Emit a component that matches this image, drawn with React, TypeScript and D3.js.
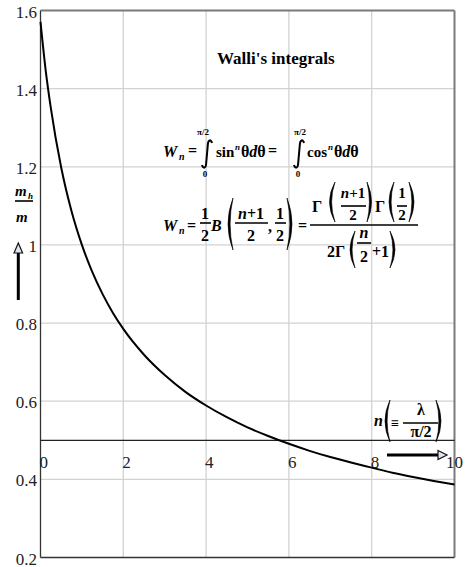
import React from "react";
import * as d3 from "d3";

// Wallis integral W(n) sampled along n
const nValues = [0, 0.125, 0.25, 0.5, 0.75, 1, 1.25, 1.5, 1.75, 2, 2.5, 3, 3.5, 4, 4.5, 5, 5.5, 6, 6.5, 7, 7.5, 8, 8.5, 9, 9.5, 10];
const wValues = [1.571, 1.447, 1.35, 1.198, 1.086, 1.0, 0.931, 0.874, 0.826, 0.785, 0.719, 0.667, 0.624, 0.589, 0.559, 0.533, 0.511, 0.491, 0.473, 0.457, 0.443, 0.43, 0.417, 0.406, 0.396, 0.387];

const xTicks = [0, 2, 4, 6, 8, 10];
const yTicks = [0.2, 0.4, 0.6, 0.8, 1.0, 1.2, 1.4, 1.6];
const xDomain = [0, 10];
const yDomain = [0.2, 1.6];
const axisCrossing = 0.5;

const W = 466;
const H = 567;
const SERIF = "Liberation Serif, Tinos, Times New Roman, Times, DejaVu Serif, serif";

function LParen({ x0, x1, y0, y1 }: { x0: number; x1: number; y0: number; y1: number }) {
  const m = (y0 + y1) / 2;
  return <path d={`M${x1},${y0} Q${x0 - 2},${m} ${x1},${y1} Q${x0 + 2.2},${m} ${x1},${y0} Z`} fill="#000" stroke="#000" strokeWidth={0.6} />;
}
function RParen({ x0, x1, y0, y1 }: { x0: number; x1: number; y0: number; y1: number }) {
  const m = (y0 + y1) / 2;
  return <path d={`M${x0},${y0} Q${x1 + 2},${m} ${x0},${y1} Q${x1 - 2.2},${m} ${x0},${y0} Z`} fill="#000" stroke="#000" strokeWidth={0.6} />;
}
function Integral({ cx, top, bottom }: { cx: number; top: number; bottom: number }) {
  return (
    <path
      d={`M${cx + 5},${top + 3} C${cx + 4},${top - 1} ${cx + 1},${top - 0.5} ${cx + 0.8},${top + 5} L${cx - 0.8},${bottom - 5} C${cx - 1},${bottom + 0.5} ${cx - 4},${bottom + 1} ${cx - 5},${bottom - 3}`}
      fill="none"
      stroke="#000"
      strokeWidth={2}
    />
  );
}
function Bar({ x0, x1, y }: { x0: number; x1: number; y: number }) {
  return <line x1={x0} x2={x1} y1={y} y2={y} stroke="#000" strokeWidth={1.6} />;
}

export default function App() {
  const x = d3.scaleLinear().domain(xDomain).range([40.5, 454.5]);
  const y = d3.scaleLinear().domain(yDomain).range([557.5, 10.5]);
  const line = d3
    .line<number>()
    .x((_, i) => x(nValues[i]))
    .y((d) => y(d))
    .curve(d3.curveMonotoneX);
  const fmt = d3.format("~g");
  const ax = y(axisCrossing);

  const t = { fontFamily: SERIF, fontWeight: 700, fontSize: 16, fill: "#000" } as const;
  const ti = { ...t, fontStyle: "italic" } as const;
  const small = { ...t, fontSize: 9 } as const;

  return (
    <svg width={W} height={H} style={{ position: "absolute", left: 0, top: 0, background: "#fff", fontFamily: SERIF }}>
      {/* grid */}
      {xTicks.slice(1, -1).map((v) => (
        <line key={"gx" + v} x1={x(v)} x2={x(v)} y1={y(1.6)} y2={y(0.2)} stroke="#d2d2d2" strokeWidth={1.3} />
      ))}
      {yTicks.slice(1, -1).map((v) => (
        <line key={"gy" + v} x1={x(0)} x2={x(10)} y1={y(v)} y2={y(v)} stroke="#d2d2d2" strokeWidth={1.3} />
      ))}

      {/* frame */}
      <line x1={x(0)} x2={x(10)} y1={y(1.6)} y2={y(1.6)} stroke="#7a7a7a" strokeWidth={2} />
      <line x1={x(10)} x2={x(10)} y1={y(1.6)} y2={y(0.2)} stroke="#7a7a7a" strokeWidth={2} />
      <line x1={x(0)} x2={x(10)} y1={y(0.2)} y2={y(0.2)} stroke="#333" strokeWidth={1.3} />
      <line x1={x(0)} x2={x(0)} y1={y(1.6)} y2={y(0.2)} stroke="#333" strokeWidth={1.3} />
      <line x1={x(0)} x2={x(10)} y1={ax} y2={ax} stroke="#222" strokeWidth={1.3} />

      {/* tick labels */}
      {yTicks.map((v) => (
        <text key={"ty" + v} x={37} y={y(v) + 7} textAnchor="end" style={{ fontFamily: SERIF }} fontSize={17} fill="#222">
          {fmt(v)}
        </text>
      ))}
      {xTicks.map((v, i) => (
        <text
          key={"tx" + v}
          x={i === xTicks.length - 1 ? x(v) : x(v) - 1}
          y={ax + 28}
          textAnchor={i === xTicks.length - 1 ? "middle" : "start"}
          style={{ fontFamily: SERIF }}
          fontSize={17}
          fill="#222"
        >
          {v}
        </text>
      ))}

      {/* curve */}
      <path d={line(wValues) ?? ""} fill="none" stroke="#000" strokeWidth={2} />

      {/* title */}
      <text x={217} y={64} style={{ fontFamily: SERIF }} fontWeight={700} fontSize={17} fill="#000">
        Walli's integrals
      </text>

      {/* W_n = ∫ sin^n θ dθ = ∫ cos^n θ dθ */}
      <g>
        <text x={163} y={157} {...ti}>W</text>
        <text x={179} y={160} {...ti} fontSize={10}>n</text>
        <text x={188} y={156} {...t}>=</text>
        <Integral cx={207} top={140} bottom={168} />
        <text x={203} y={135} {...small} textAnchor="middle">π/2</text>
        <text x={205} y={177} {...small} textAnchor="middle">0</text>
        <text x={216} y={157} {...t} fontSize={15}>sin</text>
        <text x={235} y={150} {...ti} fontSize={9}>n</text>
        <text x={241} y={157} {...t}>θ<tspan fontStyle="italic">d</tspan>θ</text>
        <text x={268} y={156} {...t}>=</text>
        <Integral cx={299} top={140} bottom={168} />
        <text x={300} y={135} {...small} textAnchor="middle">π/2</text>
        <text x={298} y={177} {...small} textAnchor="middle">0</text>
        <text x={307} y={157} {...t} fontSize={15}>cos</text>
        <text x={328} y={150} {...ti} fontSize={9}>n</text>
        <text x={334} y={157} {...t}>θ<tspan fontStyle="italic">d</tspan>θ</text>
      </g>

      {/* W_n = 1/2 B((n+1)/2, 1/2) = Γ((n+1)/2)Γ(1/2) / 2Γ(n/2+1) */}
      <g>
        <text x={163} y={231} {...ti}>W</text>
        <text x={179} y={234} {...ti} fontSize={10}>n</text>
        <text x={187} y={231} {...t}>=</text>
        <text x={205} y={219} {...t} textAnchor="middle">1</text>
        <Bar x0={200} x1={211} y={223} />
        <text x={205} y={241} {...t} textAnchor="middle">2</text>
        <text x={211} y={231} {...ti}>B</text>
        <LParen x0={225} x1={233} y0={198} y1={250} />
        <text x={251} y={219} {...t} textAnchor="middle"><tspan fontStyle="italic">n</tspan>+1</text>
        <Bar x0={235} x1={268} y={223} />
        <text x={251} y={241} {...t} textAnchor="middle">2</text>
        <text x={268} y={232} {...t}>,</text>
        <text x={280} y={219} {...t} textAnchor="middle">1</text>
        <Bar x0={275} x1={286} y={223} />
        <text x={280} y={241} {...t} textAnchor="middle">2</text>
        <RParen x0={287} x1={295} y0={198} y1={250} />
        <text x={298} y={231} {...t}>=</text>
        <Bar x0={310} x1={418} y={225} />
        {/* numerator */}
        <text x={312} y={212} {...t}>Γ</text>
        <LParen x0={326} x1={335} y0={182} y1={222} />
        <text x={353} y={198} {...t} fontSize={15} textAnchor="middle"><tspan fontStyle="italic">n</tspan>+1</text>
        <Bar x0={341} x1={366} y={206} />
        <text x={353} y={220} {...t} fontSize={15} textAnchor="middle">2</text>
        <RParen x0={367} x1={374} y0={182} y1={222} />
        <text x={375} y={212} {...t}>Γ</text>
        <LParen x0={386} x1={394} y0={182} y1={222} />
        <text x={402} y={198} {...t} fontSize={15} textAnchor="middle">1</text>
        <Bar x0={397} x1={407} y={206} />
        <text x={402} y={220} {...t} fontSize={15} textAnchor="middle">2</text>
        <RParen x0={409} x1={417} y0={182} y1={222} />
        {/* denominator */}
        <text x={327} y={257} {...t}>2Γ</text>
        <LParen x0={347} x1={355} y0={231} y1={268} />
        <text x={364} y={238} {...ti} textAnchor="middle">n</text>
        <Bar x0={357} x1={371} y={243} />
        <text x={364} y={262} {...t} textAnchor="middle">2</text>
        <text x={372} y={257} {...t}>+1</text>
        <RParen x0={390} x1={398} y0={231} y1={268} />
      </g>

      {/* x-axis label n(≡ λ/(π/2)) with arrow */}
      <g>
        <text x={374} y={426} {...ti}>n</text>
        <LParen x0={382} x1={390} y0={400} y1={442} />
        <text x={391} y={428} {...t} fontSize={14}>≡</text>
        <text x={421} y={415} {...t} textAnchor="middle">λ</text>
        <Bar x0={403} x1={438} y={423} />
        <text x={421} y={437} {...t} textAnchor="middle">π/2</text>
        <RParen x0={436} x1={444} y0={400} y1={442} />
        <line x1={387} x2={441} y1={455} y2={455} stroke="#000" strokeWidth={3} />
        <polygon points="438,450.5 447,455 438,459.5" fill="#dfe6f2" stroke="#111" strokeWidth={1.2} />
      </g>

      {/* y-axis label m_h/m with arrow */}
      <g>
        <text x={15} y={196} {...ti} fontSize={15}>m</text>
        <text x={28} y={199} {...ti} fontSize={9}>h</text>
        <Bar x0={15} x1={33} y={201} />
        <text x={16} y={222} {...ti} fontSize={15}>m</text>
        <line x1={18.3} x2={18.3} y1={252} y2={300} stroke="#000" strokeWidth={3} />
        <polygon points="14,253 18.3,243 22.6,253" fill="#dfe6f2" stroke="#111" strokeWidth={1.2} />
      </g>
    </svg>
  );
}
